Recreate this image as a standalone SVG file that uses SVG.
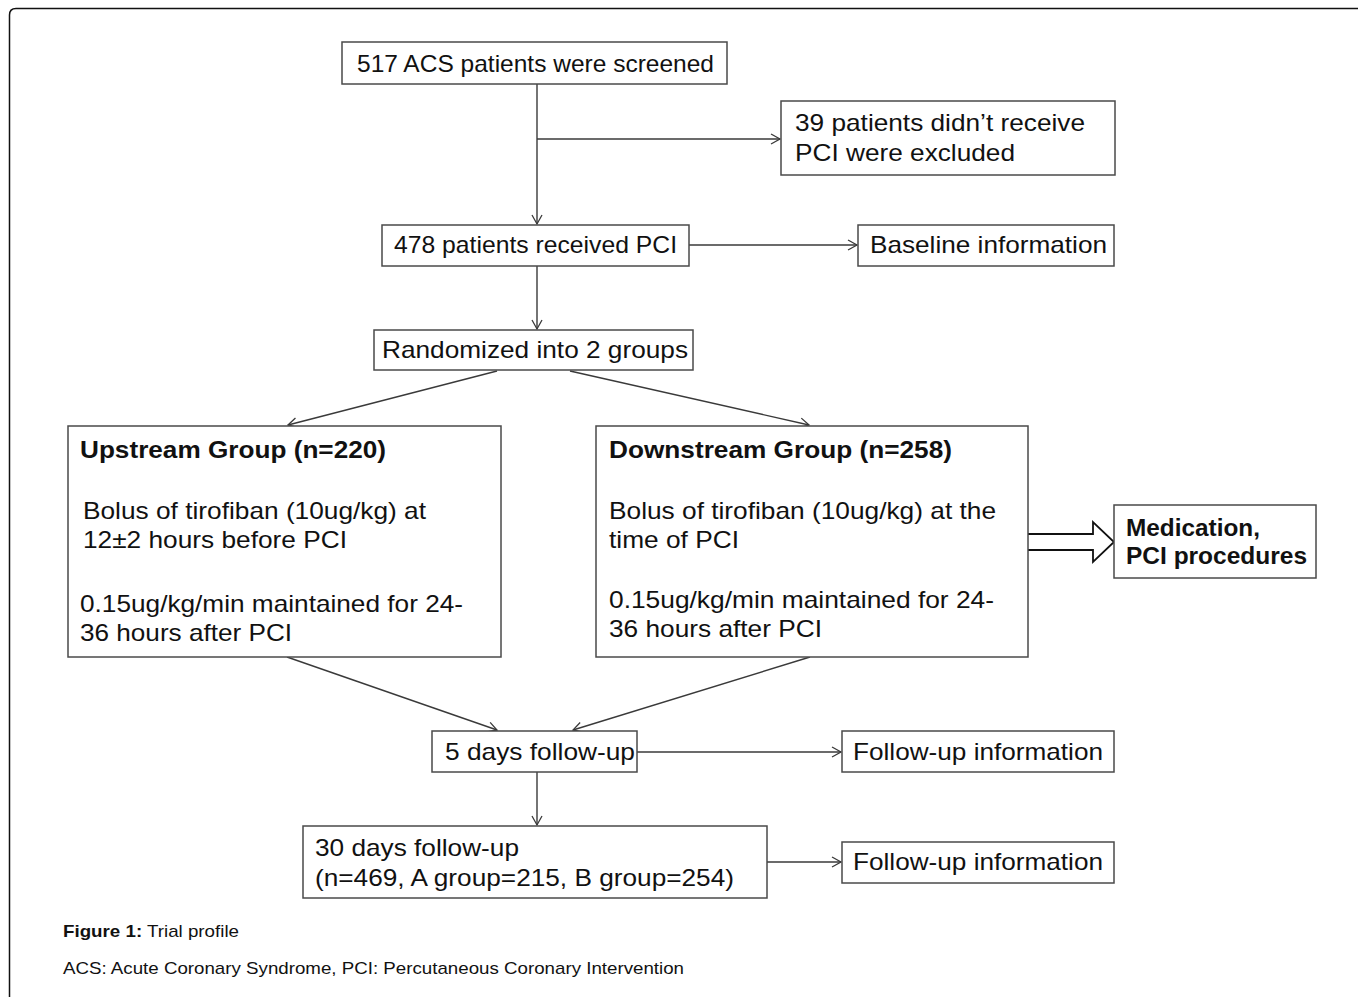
<svg xmlns="http://www.w3.org/2000/svg" width="1358" height="997" viewBox="0 0 1358 997">
<style>
.box{fill:#fff;stroke:#4a4a4a;stroke-width:1.5}
.t{font-family:"Liberation Sans",Arial,sans-serif;font-size:24px;fill:#111}
.b{font-weight:bold}
.c{font-family:"Liberation Sans",Arial,sans-serif;font-size:17px;fill:#111}
.ln{fill:none;stroke:#3a3a3a;stroke-width:1.4}
</style>
<defs>
<marker id="ah" markerUnits="userSpaceOnUse" markerWidth="14" markerHeight="14" refX="10" refY="6" orient="auto">
<path d="M1,1 L10,6 L1,11" fill="none" stroke="#3a3a3a" stroke-width="1.3"/>
</marker>
</defs>
<rect width="1358" height="997" fill="#fff"/>
<path id="frame" d="M9.5,997 L9.5,15 Q9.5,8.5 16,8.5 L1358,8.5" fill="none" stroke="#111" stroke-width="1.5"/>
<g id="connectors">
<line class="ln" x1="537" y1="84" x2="537" y2="224" marker-end="url(#ah)"/>
<line class="ln" x1="537" y1="139" x2="780" y2="139" marker-end="url(#ah)"/>
<line class="ln" x1="689" y1="245" x2="857" y2="245" marker-end="url(#ah)"/>
<line class="ln" x1="537" y1="266" x2="537" y2="329" marker-end="url(#ah)"/>
<line class="ln" x1="497" y1="371" x2="288" y2="425" marker-end="url(#ah)"/>
<line class="ln" x1="570" y1="371" x2="809" y2="425" marker-end="url(#ah)"/>
<line class="ln" x1="287" y1="657" x2="497" y2="730" marker-end="url(#ah)"/>
<line class="ln" x1="810" y1="657" x2="573" y2="730" marker-end="url(#ah)"/>
<line class="ln" x1="637" y1="752" x2="841" y2="752" marker-end="url(#ah)"/>
<line class="ln" x1="537" y1="772" x2="537" y2="825" marker-end="url(#ah)"/>
<line class="ln" x1="767" y1="862" x2="841" y2="862" marker-end="url(#ah)"/>
<path d="M1028,534 L1093,534 L1093,522 L1114,542 L1093,562 L1093,550 L1028,550" fill="#fff" stroke="#111" stroke-width="1.8"/>
</g>
<g id="n1"><rect class="box" x="342" y="42" width="385" height="42"/>
<text class="t" x="357" y="72" textLength="357" lengthAdjust="spacingAndGlyphs">517 ACS patients were screened</text></g>
<g id="n2"><rect class="box" x="781" y="101" width="334" height="74"/>
<text class="t" x="795" y="131" textLength="290" lengthAdjust="spacingAndGlyphs">39 patients didn’t receive</text>
<text class="t" x="795" y="161" textLength="220" lengthAdjust="spacingAndGlyphs">PCI were excluded</text></g>
<g id="n3"><rect class="box" x="382" y="225" width="307" height="41"/>
<text class="t" x="394" y="253" textLength="283" lengthAdjust="spacingAndGlyphs">478 patients received PCI</text></g>
<g id="n4"><rect class="box" x="858" y="225" width="256" height="41"/>
<text class="t" x="870" y="253" textLength="237" lengthAdjust="spacingAndGlyphs">Baseline information</text></g>
<g id="n5"><rect class="box" x="374" y="330" width="319" height="40"/>
<text class="t" x="382" y="358" textLength="306" lengthAdjust="spacingAndGlyphs">Randomized into 2 groups</text></g>
<g id="n6"><rect class="box" x="68" y="426" width="433" height="231"/>
<text class="t b" x="80" y="458" textLength="306" lengthAdjust="spacingAndGlyphs">Upstream Group (n=220)</text>
<text class="t" x="83" y="519" textLength="343" lengthAdjust="spacingAndGlyphs">Bolus of tirofiban (10ug/kg) at</text>
<text class="t" x="83" y="548" textLength="264" lengthAdjust="spacingAndGlyphs">12±2 hours before PCI</text>
<text class="t" x="80" y="612" textLength="383" lengthAdjust="spacingAndGlyphs">0.15ug/kg/min maintained for 24-</text>
<text class="t" x="80" y="641" textLength="212" lengthAdjust="spacingAndGlyphs">36 hours after PCI</text></g>
<g id="n7"><rect class="box" x="596" y="426" width="432" height="231"/>
<text class="t b" x="609" y="458" textLength="343" lengthAdjust="spacingAndGlyphs">Downstream Group (n=258)</text>
<text class="t" x="609" y="519" textLength="387" lengthAdjust="spacingAndGlyphs">Bolus of tirofiban (10ug/kg) at the</text>
<text class="t" x="609" y="548" textLength="130" lengthAdjust="spacingAndGlyphs">time of PCI</text>
<text class="t" x="609" y="608" textLength="385" lengthAdjust="spacingAndGlyphs">0.15ug/kg/min maintained for 24-</text>
<text class="t" x="609" y="637" textLength="213" lengthAdjust="spacingAndGlyphs">36 hours after PCI</text></g>
<g id="n8"><rect class="box" x="1114" y="505" width="202" height="73"/>
<text class="t b" x="1126" y="536" textLength="134" lengthAdjust="spacingAndGlyphs">Medication,</text>
<text class="t b" x="1126" y="564" textLength="181" lengthAdjust="spacingAndGlyphs">PCI procedures</text></g>
<g id="n9"><rect class="box" x="432" y="731" width="205" height="41"/>
<text class="t" x="445" y="760" textLength="190" lengthAdjust="spacingAndGlyphs">5 days follow-up</text></g>
<g id="n10"><rect class="box" x="842" y="731" width="272" height="41"/>
<text class="t" x="853" y="760" textLength="250" lengthAdjust="spacingAndGlyphs">Follow-up information</text></g>
<g id="n11"><rect class="box" x="303" y="826" width="464" height="72"/>
<text class="t" x="315" y="856" textLength="204" lengthAdjust="spacingAndGlyphs">30 days follow-up</text>
<text class="t" x="315" y="886" textLength="419" lengthAdjust="spacingAndGlyphs">(n=469, A group=215, B group=254)</text></g>
<g id="n12"><rect class="box" x="842" y="842" width="272" height="41"/>
<text class="t" x="853" y="870" textLength="250" lengthAdjust="spacingAndGlyphs">Follow-up information</text></g>
<g id="caption">
<text class="c" x="63" y="937" textLength="176" lengthAdjust="spacingAndGlyphs"><tspan font-weight="bold">Figure 1:</tspan> Trial profile</text>
<text class="c" x="63" y="974" textLength="621" lengthAdjust="spacingAndGlyphs">ACS: Acute Coronary Syndrome, PCI: Percutaneous Coronary Intervention</text>
</g>
</svg>
